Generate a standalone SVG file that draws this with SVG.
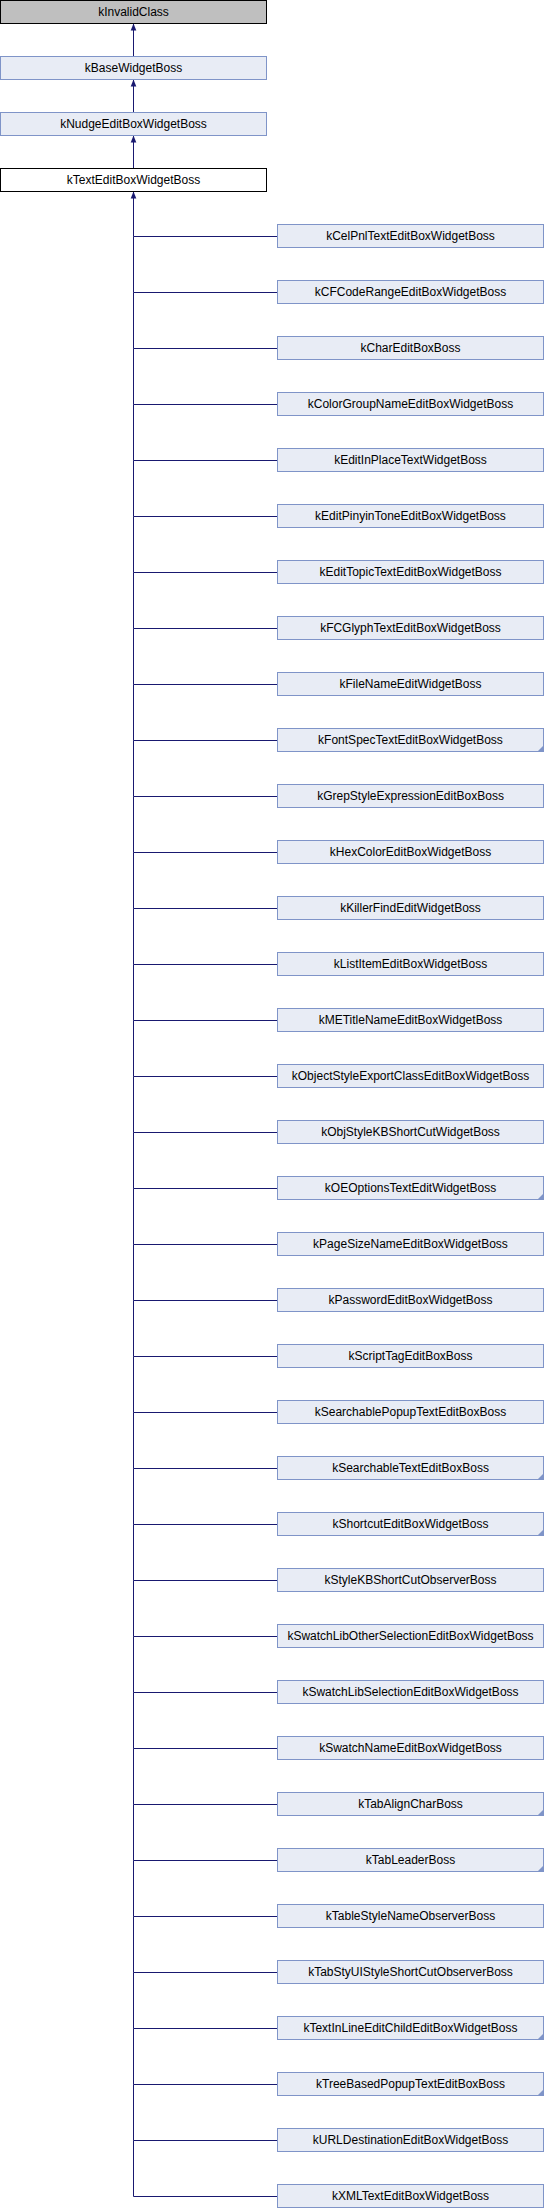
<svg xmlns="http://www.w3.org/2000/svg" width="544" height="2208" viewBox="0 0 544 2208">
<style>
rect.n{fill:#E8ECF5;stroke:#7F94C8;stroke-width:1}
rect.g{fill:#BFBFBF;stroke:#000;stroke-width:1}
rect.w{fill:#FFF;stroke:#000;stroke-width:1}
text{font-family:"Liberation Sans",Arial,sans-serif;font-size:12px;fill:#000;text-anchor:middle}
.e{fill:none;stroke:#191970;stroke-width:1}
.t{fill:#7F94C8}
</style>
<defs>
<marker id="a" viewBox="0 0 10 10" refX="10" refY="5" markerUnits="userSpaceOnUse" markerWidth="8" markerHeight="7" orient="auto">
<path d="M0,1 L10,5 L0,9 z" fill="#191970"/>
</marker>
</defs>
<g id="edges">
<path class="e" d="M133.5,56.5 V23.5" marker-end="url(#a)"/>
<path class="e" d="M133.5,112.5 V79.5" marker-end="url(#a)"/>
<path class="e" d="M133.5,168.5 V135.5" marker-end="url(#a)"/>
<path class="e" d="M277.5,236.5 H133.5 V191.5" marker-end="url(#a)"/>
<path class="e" d="M277.5,292.5 H133.5 V236.5"/>
<path class="e" d="M277.5,348.5 H133.5 V292.5"/>
<path class="e" d="M277.5,404.5 H133.5 V348.5"/>
<path class="e" d="M277.5,460.5 H133.5 V404.5"/>
<path class="e" d="M277.5,516.5 H133.5 V460.5"/>
<path class="e" d="M277.5,572.5 H133.5 V516.5"/>
<path class="e" d="M277.5,628.5 H133.5 V572.5"/>
<path class="e" d="M277.5,684.5 H133.5 V628.5"/>
<path class="e" d="M277.5,740.5 H133.5 V684.5"/>
<path class="e" d="M277.5,796.5 H133.5 V740.5"/>
<path class="e" d="M277.5,852.5 H133.5 V796.5"/>
<path class="e" d="M277.5,908.5 H133.5 V852.5"/>
<path class="e" d="M277.5,964.5 H133.5 V908.5"/>
<path class="e" d="M277.5,1020.5 H133.5 V964.5"/>
<path class="e" d="M277.5,1076.5 H133.5 V1020.5"/>
<path class="e" d="M277.5,1132.5 H133.5 V1076.5"/>
<path class="e" d="M277.5,1188.5 H133.5 V1132.5"/>
<path class="e" d="M277.5,1244.5 H133.5 V1188.5"/>
<path class="e" d="M277.5,1300.5 H133.5 V1244.5"/>
<path class="e" d="M277.5,1356.5 H133.5 V1300.5"/>
<path class="e" d="M277.5,1412.5 H133.5 V1356.5"/>
<path class="e" d="M277.5,1468.5 H133.5 V1412.5"/>
<path class="e" d="M277.5,1524.5 H133.5 V1468.5"/>
<path class="e" d="M277.5,1580.5 H133.5 V1524.5"/>
<path class="e" d="M277.5,1636.5 H133.5 V1580.5"/>
<path class="e" d="M277.5,1692.5 H133.5 V1636.5"/>
<path class="e" d="M277.5,1748.5 H133.5 V1692.5"/>
<path class="e" d="M277.5,1804.5 H133.5 V1748.5"/>
<path class="e" d="M277.5,1860.5 H133.5 V1804.5"/>
<path class="e" d="M277.5,1916.5 H133.5 V1860.5"/>
<path class="e" d="M277.5,1972.5 H133.5 V1916.5"/>
<path class="e" d="M277.5,2028.5 H133.5 V1972.5"/>
<path class="e" d="M277.5,2084.5 H133.5 V2028.5"/>
<path class="e" d="M277.5,2140.5 H133.5 V2084.5"/>
<path class="e" d="M277.5,2196.5 H133.5 V2140.5"/>
</g>
<g id="kInvalidClass"><rect class="g" x="0.5" y="0.5" width="266" height="23"/><text x="133.5" y="16">kInvalidClass</text></g>
<g id="kBaseWidgetBoss"><rect class="n" x="0.5" y="56.5" width="266" height="23"/><text x="133.5" y="72">kBaseWidgetBoss</text></g>
<g id="kNudgeEditBoxWidgetBoss"><rect class="n" x="0.5" y="112.5" width="266" height="23"/><text x="133.5" y="128">kNudgeEditBoxWidgetBoss</text></g>
<g id="kTextEditBoxWidgetBoss"><rect class="w" x="0.5" y="168.5" width="266" height="23"/><text x="133.5" y="184">kTextEditBoxWidgetBoss</text></g>
<g id="c0" transform="translate(277,224)"><rect class="n" x="0.5" y="0.5" width="266" height="23"/><text x="133.5" y="16">kCelPnlTextEditBoxWidgetBoss</text></g>
<g id="c1" transform="translate(277,280)"><rect class="n" x="0.5" y="0.5" width="266" height="23"/><text x="133.5" y="16">kCFCodeRangeEditBoxWidgetBoss</text></g>
<g id="c2" transform="translate(277,336)"><rect class="n" x="0.5" y="0.5" width="266" height="23"/><text x="133.5" y="16">kCharEditBoxBoss</text></g>
<g id="c3" transform="translate(277,392)"><rect class="n" x="0.5" y="0.5" width="266" height="23"/><text x="133.5" y="16">kColorGroupNameEditBoxWidgetBoss</text></g>
<g id="c4" transform="translate(277,448)"><rect class="n" x="0.5" y="0.5" width="266" height="23"/><text x="133.5" y="16">kEditInPlaceTextWidgetBoss</text></g>
<g id="c5" transform="translate(277,504)"><rect class="n" x="0.5" y="0.5" width="266" height="23"/><text x="133.5" y="16">kEditPinyinToneEditBoxWidgetBoss</text></g>
<g id="c6" transform="translate(277,560)"><rect class="n" x="0.5" y="0.5" width="266" height="23"/><text x="133.5" y="16">kEditTopicTextEditBoxWidgetBoss</text></g>
<g id="c7" transform="translate(277,616)"><rect class="n" x="0.5" y="0.5" width="266" height="23"/><text x="133.5" y="16">kFCGlyphTextEditBoxWidgetBoss</text></g>
<g id="c8" transform="translate(277,672)"><rect class="n" x="0.5" y="0.5" width="266" height="23"/><text x="133.5" y="16">kFileNameEditWidgetBoss</text></g>
<g id="c9" transform="translate(277,728)"><rect class="n" x="0.5" y="0.5" width="266" height="23"/><polygon class="t" points="266.5,17.5 266.5,23.5 260.5,23.5"/><text x="133.5" y="16">kFontSpecTextEditBoxWidgetBoss</text></g>
<g id="c10" transform="translate(277,784)"><rect class="n" x="0.5" y="0.5" width="266" height="23"/><text x="133.5" y="16">kGrepStyleExpressionEditBoxBoss</text></g>
<g id="c11" transform="translate(277,840)"><rect class="n" x="0.5" y="0.5" width="266" height="23"/><text x="133.5" y="16">kHexColorEditBoxWidgetBoss</text></g>
<g id="c12" transform="translate(277,896)"><rect class="n" x="0.5" y="0.5" width="266" height="23"/><text x="133.5" y="16">kKillerFindEditWidgetBoss</text></g>
<g id="c13" transform="translate(277,952)"><rect class="n" x="0.5" y="0.5" width="266" height="23"/><text x="133.5" y="16">kListItemEditBoxWidgetBoss</text></g>
<g id="c14" transform="translate(277,1008)"><rect class="n" x="0.5" y="0.5" width="266" height="23"/><text x="133.5" y="16">kMETitleNameEditBoxWidgetBoss</text></g>
<g id="c15" transform="translate(277,1064)"><rect class="n" x="0.5" y="0.5" width="266" height="23"/><text x="133.5" y="16">kObjectStyleExportClassEditBoxWidgetBoss</text></g>
<g id="c16" transform="translate(277,1120)"><rect class="n" x="0.5" y="0.5" width="266" height="23"/><text x="133.5" y="16">kObjStyleKBShortCutWidgetBoss</text></g>
<g id="c17" transform="translate(277,1176)"><rect class="n" x="0.5" y="0.5" width="266" height="23"/><polygon class="t" points="266.5,17.5 266.5,23.5 260.5,23.5"/><text x="133.5" y="16">kOEOptionsTextEditWidgetBoss</text></g>
<g id="c18" transform="translate(277,1232)"><rect class="n" x="0.5" y="0.5" width="266" height="23"/><text x="133.5" y="16">kPageSizeNameEditBoxWidgetBoss</text></g>
<g id="c19" transform="translate(277,1288)"><rect class="n" x="0.5" y="0.5" width="266" height="23"/><text x="133.5" y="16">kPasswordEditBoxWidgetBoss</text></g>
<g id="c20" transform="translate(277,1344)"><rect class="n" x="0.5" y="0.5" width="266" height="23"/><text x="133.5" y="16">kScriptTagEditBoxBoss</text></g>
<g id="c21" transform="translate(277,1400)"><rect class="n" x="0.5" y="0.5" width="266" height="23"/><text x="133.5" y="16">kSearchablePopupTextEditBoxBoss</text></g>
<g id="c22" transform="translate(277,1456)"><rect class="n" x="0.5" y="0.5" width="266" height="23"/><polygon class="t" points="266.5,17.5 266.5,23.5 260.5,23.5"/><text x="133.5" y="16">kSearchableTextEditBoxBoss</text></g>
<g id="c23" transform="translate(277,1512)"><rect class="n" x="0.5" y="0.5" width="266" height="23"/><polygon class="t" points="266.5,17.5 266.5,23.5 260.5,23.5"/><text x="133.5" y="16">kShortcutEditBoxWidgetBoss</text></g>
<g id="c24" transform="translate(277,1568)"><rect class="n" x="0.5" y="0.5" width="266" height="23"/><text x="133.5" y="16">kStyleKBShortCutObserverBoss</text></g>
<g id="c25" transform="translate(277,1624)"><rect class="n" x="0.5" y="0.5" width="266" height="23"/><text x="133.5" y="16">kSwatchLibOtherSelectionEditBoxWidgetBoss</text></g>
<g id="c26" transform="translate(277,1680)"><rect class="n" x="0.5" y="0.5" width="266" height="23"/><text x="133.5" y="16">kSwatchLibSelectionEditBoxWidgetBoss</text></g>
<g id="c27" transform="translate(277,1736)"><rect class="n" x="0.5" y="0.5" width="266" height="23"/><text x="133.5" y="16">kSwatchNameEditBoxWidgetBoss</text></g>
<g id="c28" transform="translate(277,1792)"><rect class="n" x="0.5" y="0.5" width="266" height="23"/><polygon class="t" points="266.5,17.5 266.5,23.5 260.5,23.5"/><text x="133.5" y="16">kTabAlignCharBoss</text></g>
<g id="c29" transform="translate(277,1848)"><rect class="n" x="0.5" y="0.5" width="266" height="23"/><polygon class="t" points="266.5,17.5 266.5,23.5 260.5,23.5"/><text x="133.5" y="16">kTabLeaderBoss</text></g>
<g id="c30" transform="translate(277,1904)"><rect class="n" x="0.5" y="0.5" width="266" height="23"/><text x="133.5" y="16">kTableStyleNameObserverBoss</text></g>
<g id="c31" transform="translate(277,1960)"><rect class="n" x="0.5" y="0.5" width="266" height="23"/><text x="133.5" y="16">kTabStyUIStyleShortCutObserverBoss</text></g>
<g id="c32" transform="translate(277,2016)"><rect class="n" x="0.5" y="0.5" width="266" height="23"/><polygon class="t" points="266.5,17.5 266.5,23.5 260.5,23.5"/><text x="133.5" y="16">kTextInLineEditChildEditBoxWidgetBoss</text></g>
<g id="c33" transform="translate(277,2072)"><rect class="n" x="0.5" y="0.5" width="266" height="23"/><polygon class="t" points="266.5,17.5 266.5,23.5 260.5,23.5"/><text x="133.5" y="16">kTreeBasedPopupTextEditBoxBoss</text></g>
<g id="c34" transform="translate(277,2128)"><rect class="n" x="0.5" y="0.5" width="266" height="23"/><text x="133.5" y="16">kURLDestinationEditBoxWidgetBoss</text></g>
<g id="c35" transform="translate(277,2184)"><rect class="n" x="0.5" y="0.5" width="266" height="23"/><text x="133.5" y="16">kXMLTextEditBoxWidgetBoss</text></g>
</svg>
